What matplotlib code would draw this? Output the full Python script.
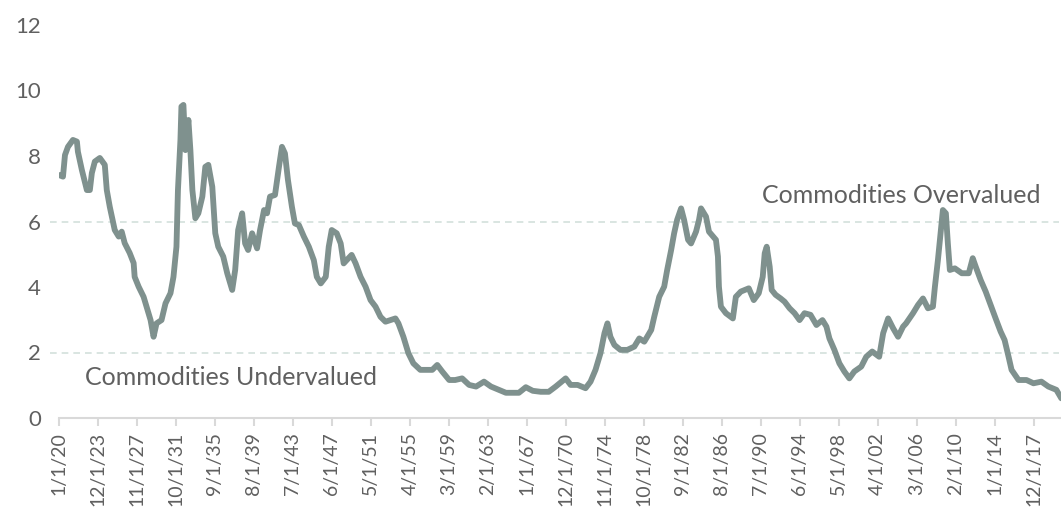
import numpy as np
import matplotlib
matplotlib.use('Agg')
import matplotlib.pyplot as plt

# commodity valuation ratio (decimal year, value)
years = [1920.0, 1920.4, 1920.6, 1920.9, 1921.4, 1921.8, 1921.9, 1922.3, 1922.8, 1923.1,
         1923.3, 1923.6, 1924.1, 1924.6, 1924.8, 1925.1, 1925.6, 1926.0, 1926.3, 1926.6,
         1927.1, 1927.5, 1927.6, 1928.0, 1928.5, 1928.8, 1929.2, 1929.5, 1929.8, 1930.3,
         1930.7, 1931.2, 1931.5, 1931.8, 1931.95, 1932.2, 1932.3, 1932.5, 1932.7, 1933.0,
         1933.2, 1933.4, 1933.7, 1934.0, 1934.4, 1934.7, 1935.0, 1935.4, 1935.7, 1936.0,
         1936.5, 1936.9, 1937.4, 1937.7, 1938.0, 1938.4, 1938.7, 1939.0, 1939.4, 1939.9,
         1940.2, 1940.6, 1940.9, 1941.2, 1941.7, 1942.1, 1942.4, 1942.7, 1943.0, 1943.4,
         1943.7, 1944.1, 1944.6, 1945.1, 1945.6, 1945.9, 1946.3, 1946.8, 1947.1, 1947.4,
         1947.9, 1948.3, 1948.6, 1948.9, 1949.4, 1949.8, 1950.3, 1950.8, 1951.3, 1951.8,
         1952.3, 1952.8, 1953.8, 1954.1, 1954.6, 1955.1, 1955.6, 1956.3, 1957.0, 1957.5,
         1958.0, 1958.5, 1959.2, 1959.8, 1960.5, 1961.2, 1961.9, 1962.7, 1963.4, 1964.2,
         1964.9, 1966.2, 1966.9, 1967.6, 1968.4, 1969.2, 1969.9, 1970.9, 1971.4, 1972.1,
         1972.9, 1973.4, 1973.9, 1974.4, 1974.8, 1975.1, 1975.4, 1975.8, 1976.4, 1977.1,
         1977.8, 1978.3, 1978.8, 1979.5, 1979.8, 1980.3, 1980.8, 1981.1, 1981.5, 1981.8,
         1982.1, 1982.5, 1982.8, 1983.2, 1983.5, 1984.0, 1984.3, 1984.5, 1985.0, 1985.3,
         1986.0, 1986.2, 1986.3, 1986.5, 1987.0, 1987.7, 1988.0, 1988.5, 1989.3, 1989.8,
         1990.3, 1990.7, 1990.9, 1991.1, 1991.4, 1991.6, 1992.0, 1992.5, 1992.9, 1993.4,
         1993.9, 1994.4, 1994.9, 1995.5, 1996.1, 1996.7, 1997.1, 1997.4, 1997.9, 1998.4,
         1998.9, 1999.4, 1999.9, 2000.6, 2001.1, 2001.7, 2002.4, 2002.8, 2003.3, 2003.8,
         2004.3, 2004.8, 2005.1, 2005.8, 2006.3, 2006.8, 2007.3, 2007.8, 2008.0, 2008.3,
         2008.6, 2008.8, 2009.1, 2009.3, 2009.5, 2010.0, 2010.7, 2011.4, 2011.8, 2012.1,
         2012.6, 2013.1, 2013.6, 2014.1, 2014.6, 2015.0, 2015.4, 2015.7, 2016.4, 2017.2,
         2017.9, 2018.7, 2019.4, 2020.2, 2020.7]
ratio = [7.42, 7.37, 8.03, 8.28, 8.49, 8.44, 8.13, 7.57, 6.96, 6.96,
         7.48, 7.83, 7.94, 7.73, 6.96, 6.45, 5.74, 5.54, 5.69, 5.34,
         5.04, 4.73, 4.31, 4.01, 3.70, 3.40, 2.99, 2.48, 2.89, 2.99,
         3.50, 3.81, 4.31, 5.23, 6.96, 8.49, 9.51, 9.56, 8.18, 9.10,
         8.18, 6.96, 6.10, 6.25, 6.76, 7.67, 7.73, 7.06, 5.64, 5.23,
         4.93, 4.42, 3.91, 4.52, 5.74, 6.25, 5.33, 5.13, 5.64, 5.18,
         5.74, 6.35, 6.25, 6.76, 6.81, 7.67, 8.28, 8.08, 7.27, 6.45,
         5.94, 5.89, 5.54, 5.23, 4.82, 4.31, 4.11, 4.31, 5.23, 5.74,
         5.64, 5.33, 4.72, 4.82, 4.98, 4.72, 4.31, 4.01, 3.60, 3.40,
         3.09, 2.94, 3.04, 2.89, 2.48, 1.98, 1.67, 1.47, 1.47, 1.47,
         1.62, 1.42, 1.16, 1.16, 1.21, 1.01, 0.96, 1.11, 0.96, 0.86,
         0.77, 0.77, 0.94, 0.83, 0.80, 0.80, 0.96, 1.21, 1.01, 1.01,
         0.91, 1.11, 1.47, 1.98, 2.59, 2.89, 2.48, 2.23, 2.08, 2.08,
         2.18, 2.43, 2.33, 2.69, 3.09, 3.70, 4.01, 4.52, 5.13, 5.64,
         6.05, 6.40, 6.05, 5.44, 5.33, 5.69, 6.05, 6.40, 6.15, 5.69,
         5.44, 4.93, 4.01, 3.40, 3.20, 3.04, 3.70, 3.86, 3.96, 3.60,
         3.81, 4.31, 5.03, 5.23, 4.62, 3.91, 3.76, 3.65, 3.55, 3.35,
         3.20, 2.99, 3.20, 3.15, 2.84, 2.99, 2.79, 2.43, 2.08, 1.67,
         1.42, 1.21, 1.42, 1.57, 1.87, 2.03, 1.87, 2.59, 3.04, 2.74,
         2.48, 2.79, 2.89, 3.20, 3.45, 3.65, 3.35, 3.40, 4.01, 4.82,
         5.74, 6.35, 6.25, 5.33, 4.52, 4.57, 4.42, 4.42, 4.88, 4.62,
         4.21, 3.86, 3.45, 3.04, 2.64, 2.38, 1.87, 1.47, 1.16, 1.16,
         1.06, 1.11, 0.96, 0.86, 0.60]

tick_labels = ['1/1/20', '12/1/23', '11/1/27', '10/1/31', '9/1/35', '8/1/39', '7/1/43',
               '6/1/47', '5/1/51', '4/1/55', '3/1/59', '2/1/63', '1/1/67', '12/1/70',
               '11/1/74', '10/1/78', '9/1/82', '8/1/86', '7/1/90', '6/1/94', '5/1/98',
               '4/1/02', '3/1/06', '2/1/10', '1/1/14', '12/1/17']
tick_step = 47  # months between labels
ref_levels = [2, 6]

plt.rcParams['font.family'] = ['Lato', 'DejaVu Sans']
txt_col = '#606060'
line_col = '#7f918e'

months = (np.array(years) - 1920.0) * 12.0

fig = plt.figure(figsize=(10.61, 5.08), dpi=100)
ax = fig.add_axes([59/1061, 90/508, 1002/1061, 393/508])

for lvl in ref_levels:
    ax.plot([-11, 1205], [lvl, lvl], color='#d3e0dc', linestyle=(0, (4, 3)),
            linewidth=1.2, clip_on=False, zorder=1)

ax.plot(months, ratio, color=line_col, linewidth=4.2, solid_joinstyle='round',
        solid_capstyle='round', zorder=3)

ax.text(1183, 6.78, 'Commodities Overvalued', ha='right', va='center',
        fontsize=18, color=txt_col)
ax.text(31, 1.25, 'Commodities Undervalued', ha='left', va='center',
        fontsize=18, color=txt_col)

ax.set_xlim(0, 1208)
ax.set_ylim(0, 12)
ax.set_yticks(range(0, 13, 2))
ax.set_xticks([i * tick_step for i in range(len(tick_labels))])
ax.set_xticklabels(tick_labels, rotation=90)

for s in ['top', 'right', 'left']:
    ax.spines[s].set_visible(False)
ax.spines['bottom'].set_color('#d9d9d9')
ax.spines['bottom'].set_linewidth(1.5)
ax.tick_params(axis='y', length=0, pad=13, labelsize=16, labelcolor=txt_col)
ax.tick_params(axis='x', length=6, width=1.5, color='#d9d9d9', pad=4,
               labelsize=14, labelcolor=txt_col)

fig.savefig('out.png', dpi=100)
